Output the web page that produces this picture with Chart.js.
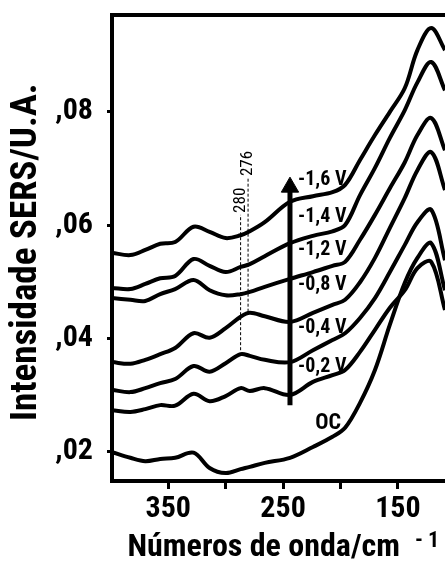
<!DOCTYPE html>
<html>
<head>
<meta charset="utf-8">
<script src="https://cdn.jsdelivr.net/npm/chart.js@4.4.1/dist/chart.umd.min.js"></script>
<style>
html, body { margin: 0; padding: 0; background: #fff; }
</style>
</head>
<body>
<canvas id="sersChart" width="445" height="567"></canvas>
<script>
// wavenumber grid (cm-1)
var wavenumbers = [399, 383, 370, 357, 344, 328, 314, 300, 287, 279, 266, 244, 224, 207, 196, 183, 170, 157, 144, 133, 121, 109];

var potentials = ['-1,6 V', '-1,4 V', '-1,2 V', '-0,8 V', '-0,4 V', '-0,2 V', 'OC'];

var v16 = [0.0551, 0.0547, 0.0556, 0.0567, 0.0570, 0.0597, 0.0588, 0.0577, 0.0582, 0.0589, 0.0605, 0.0641, 0.0651, 0.0658, 0.0671, 0.0715, 0.0759, 0.0800, 0.0842, 0.0909, 0.0948, 0.0909];
var v14 = [0.0489, 0.0487, 0.0496, 0.0506, 0.0510, 0.0540, 0.0528, 0.0517, 0.0526, 0.0531, 0.0545, 0.0568, 0.0581, 0.0589, 0.0600, 0.0653, 0.0701, 0.0754, 0.0803, 0.0852, 0.0888, 0.0838];
var v12 = [0.0471, 0.0468, 0.0466, 0.0478, 0.0487, 0.0503, 0.0485, 0.0476, 0.0478, 0.0482, 0.0491, 0.0505, 0.0517, 0.0528, 0.0535, 0.0574, 0.0618, 0.0665, 0.0711, 0.0759, 0.0789, 0.0732];
var v08 = [0.0358, 0.0355, 0.0362, 0.0372, 0.0383, 0.0409, 0.0401, 0.0418, 0.0438, 0.0445, 0.0439, 0.0429, 0.0445, 0.0459, 0.0468, 0.0499, 0.0542, 0.0595, 0.0648, 0.0697, 0.0729, 0.0662];
var v04 = [0.0309, 0.0305, 0.0312, 0.0321, 0.0328, 0.0351, 0.0341, 0.0356, 0.0372, 0.0369, 0.0362, 0.0358, 0.0379, 0.0397, 0.0409, 0.0436, 0.0471, 0.0517, 0.0565, 0.0605, 0.0627, 0.0538];
var v02 = [0.0273, 0.0270, 0.0275, 0.0282, 0.0281, 0.0302, 0.0289, 0.0298, 0.0312, 0.0307, 0.0312, 0.0300, 0.0323, 0.0335, 0.0344, 0.0376, 0.0415, 0.0454, 0.0485, 0.0524, 0.0535, 0.0450];
var vOC = [0.0199, 0.0189, 0.0183, 0.0187, 0.0189, 0.0198, 0.0171, 0.0162, 0.0169, 0.0173, 0.0180, 0.0189, 0.0208, 0.0226, 0.0242, 0.0286, 0.0344, 0.0424, 0.0498, 0.0542, 0.0568, 0.0485];

var xTicks = [350, 300, 250, 200, 150];
var xTickLabels = ['350', '', '250', '', '150'];
var yTicks = [0.02, 0.04, 0.06, 0.08];

// dashed band markers and their labels
var bandX = [287, 280.5];
var bandTop = [0.0618, 0.0683];
var bandBottom = [0.0379, 0.0447];
var bandLabels = ['280', '276'];

// arrow from low to high potential
var arrowX = [244, 244];
var arrowY = [0.0282, 0.0667];

// where the potential labels sit
var labelX = [237, 237, 237, 237, 237, 237, 222];
var labelY = [0.0679, 0.0614, 0.0556, 0.0494, 0.0418, 0.0349, 0.0250];

var fontFamily = "'Roboto Condensed', 'DejaVu Sans Condensed', sans-serif";
var xTitle = 'Números de onda/cm';

function series(values) {
    return wavenumbers.map(function(w, i) { return {x: w, y: values[i]}; });
}

var curves = [v16, v14, v12, v08, v04, v02, vOC];
var datasets = curves.map(function(values, i) {
    return {
        label: potentials[i],
        data: series(values),
        borderColor: '#000',
        borderWidth: 4,
        pointRadius: 0,
        tension: 0.35,
        fill: false
    };
});

bandX.forEach(function(b, i) {
    datasets.push({
        label: bandLabels[i],
        data: [{x: b, y: bandBottom[i]}, {x: b, y: bandTop[i]}],
        borderColor: '#000',
        borderWidth: 1,
        borderDash: [3, 2],
        pointRadius: 0
    });
});

datasets.push({
    label: 'arrow',
    data: [{x: arrowX[0], y: arrowY[0]}, {x: arrowX[1], y: arrowY[1]}],
    borderColor: '#000',
    backgroundColor: '#000',
    borderWidth: 5,
    pointStyle: 'triangle',
    pointRadius: [0, 10],
    pointBorderWidth: 1
});

var annotate = {
    id: 'annotate',
    afterDraw: function(chart) {
        var ctx = chart.ctx, xs = chart.scales.x, ys = chart.scales.y, area = chart.chartArea;
        ctx.save();
        // top frame line
        ctx.strokeStyle = '#000';
        ctx.lineWidth = 4;
        ctx.beginPath();
        ctx.moveTo(area.left - 2, area.top);
        ctx.lineTo(area.right, area.top);
        ctx.stroke();

        ctx.fillStyle = '#000';
        ctx.textAlign = 'left';
        ctx.textBaseline = 'middle';
        potentials.forEach(function(p, i) {
            ctx.font = 'bold ' + (p === 'OC' ? 22 : 20) + 'px ' + fontFamily;
            ctx.fillText(p, xs.getPixelForValue(labelX[i]), ys.getPixelForValue(labelY[i]));
        });

        ctx.font = '17px ' + fontFamily;
        bandLabels.forEach(function(t, i) {
            ctx.save();
            ctx.translate(xs.getPixelForValue(bandX[i]), ys.getPixelForValue(bandTop[i]) - 2);
            ctx.rotate(-Math.PI / 2);
            ctx.textAlign = 'left';
            ctx.textBaseline = 'middle';
            ctx.fillText(t, 0, 0);
            ctx.restore();
        });

        // superscript after the x title
        ctx.font = 'bold 32px ' + fontFamily;
        var full = ctx.measureText(xTitle + '    ').width;
        var seen = ctx.measureText(xTitle).width;
        var start = (area.left + area.right) / 2 - full / 2;
        ctx.font = 'bold 22px ' + fontFamily;
        ctx.textAlign = 'left';
        ctx.textBaseline = 'alphabetic';
        ctx.fillText('- 1', start + seen + 15, 547);
        ctx.restore();
    }
};

new Chart(document.getElementById('sersChart'), {
    type: 'line',
    data: { datasets: datasets },
    options: {
        responsive: false,
        devicePixelRatio: 1,
        animation: false,
        layout: { autoPadding: false, padding: { top: 15, right: 0, left: 0, bottom: 0 } },
        plugins: { legend: { display: false }, tooltip: { enabled: false } },
        scales: {
            x: {
                type: 'linear',
                reverse: true,
                min: 109,
                max: 399,
                afterBuildTicks: function(scale) {
                    scale.ticks = xTicks.map(function(v) { return {value: v}; });
                },
                afterFit: function(scale) {
                    scale.height = 86;
                    scale.paddingLeft = 0;
                    scale.paddingRight = 0;
                },
                ticks: {
                    autoSkip: false,
                    maxRotation: 0,
                    padding: 2,
                    color: '#000',
                    font: { family: fontFamily, size: 30, weight: 'bold' },
                    callback: function(v, i) { return xTickLabels[i]; }
                },
                grid: {
                    drawOnChartArea: false,
                    drawTicks: true,
                    tickLength: 8,
                    tickWidth: 3,
                    tickColor: '#000'
                },
                border: { display: true, color: '#000', width: 4 },
                title: {
                    display: true,
                    text: xTitle + '    ',
                    color: '#000',
                    font: { family: fontFamily, size: 32, weight: 'bold' },
                    padding: { top: 0, bottom: 0 }
                }
            },
            y: {
                type: 'linear',
                min: 0.0148,
                max: 0.0971,
                afterBuildTicks: function(scale) {
                    scale.ticks = yTicks.map(function(v) { return {value: v}; });
                },
                afterFit: function(scale) {
                    scale.width = 112;
                    scale.paddingTop = 0;
                    scale.paddingBottom = 0;
                },
                ticks: {
                    padding: 14,
                    color: '#000',
                    font: { family: fontFamily, size: 30, weight: 'bold' },
                    callback: function(v) { return ',' + (Math.round(v * 100)).toString().padStart(2, '0'); }
                },
                grid: {
                    drawOnChartArea: false,
                    drawTicks: true,
                    tickLength: 5,
                    tickWidth: 3,
                    tickColor: '#000'
                },
                border: { display: true, color: '#000', width: 4 },
                title: {
                    display: true,
                    text: 'Intensidade SERS/U.A. ',
                    color: '#000',
                    font: { family: fontFamily, size: 37, weight: 'bold' },
                    padding: { top: 5, bottom: 0 }
                }
            }
        }
    },
    plugins: [annotate]
});
</script>
</body>
</html>
